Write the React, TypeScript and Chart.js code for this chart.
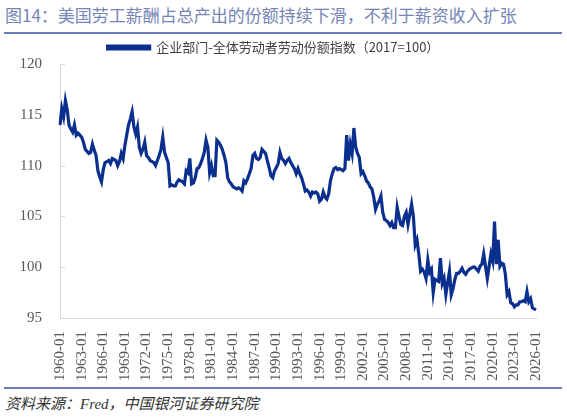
import React, { useEffect, useRef } from "react";
import { Chart, registerables } from "chart.js";

Chart.register(...registerables);

const TITLE = "图14：美国劳工薪酬占总产出的份额持续下滑，不利于薪资收入扩张";
const SOURCE = "资料来源：Fred，中国银河证券研究院";
const SERIES_NAME = "企业部门-全体劳动者劳动份额指数（2017=100）";

const START_YEAR = 1960;
const END_YEAR = 2026;
const QUARTER_MONTHS = ["01", "04", "07", "10"];

// quarterly categories 1960-01 ... 2026-01
const categories: string[] = [];
for (let y = START_YEAR; y <= END_YEAR; y++) {
  for (const m of QUARTER_MONTHS) {
    if (y === END_YEAR && m !== "01") continue;
    categories.push(`${y}-${m}`);
  }
}

// index values, one row per year (Q1..Q4)
const laborShare: number[] = [
  114.0, 115.6, 114.8, 116.4, // 1960
  115.5, 114.0, 113.6, 113.3, // 1961
  114.0, 113.0, 113.2, 113.0, // 1962
  112.8, 112.3, 111.6, 111.4, // 1963
  111.2, 111.3, 112.1, 111.5, // 1964
  111.0, 109.5, 108.9, 108.4, // 1965
  109.6, 110.3, 110.4, 110.5, // 1966
  110.2, 110.7, 110.6, 110.5, // 1967
  110.0, 110.4, 111.2, 110.7, // 1968
  112.0, 113.0, 114.0, 114.6, // 1969
  115.3, 113.8, 113.1, 113.8, // 1970
  111.8, 111.2, 111.6, 112.3, // 1971
  111.0, 110.8, 110.5, 110.4, // 1972
  110.3, 110.0, 110.5, 111.0, // 1973
  111.6, 112.8, 111.3, 110.8, // 1974
  110.3, 108.0, 108.1, 108.0, // 1975
  108.0, 108.4, 108.6, 108.5, // 1976
  108.4, 108.2, 109.5, 109.3, // 1977
  110.7, 108.2, 108.3, 108.8, // 1978
  109.7, 109.8, 110.2, 110.7, // 1979
  111.3, 112.5, 111.8, 109.3, // 1980
  110.0, 109.0, 109.0, 112.5, // 1981
  112.3, 112.0, 111.6, 111.0, // 1982
  110.3, 108.8, 108.4, 108.2, // 1983
  107.9, 107.8, 107.7, 107.8, // 1984
  107.7, 107.5, 108.5, 108.3, // 1985
  108.7, 109.2, 109.7, 111.0, // 1986
  111.2, 110.7, 110.6, 110.8, // 1987
  111.6, 111.4, 111.2, 110.5, // 1988
  109.8, 109.0, 108.8, 109.5, // 1989
  109.8, 110.2, 111.3, 110.7, // 1990
  110.5, 110.2, 110.5, 110.7, // 1991
  110.3, 110.0, 109.7, 109.2, // 1992
  109.7, 109.2, 108.8, 108.2, // 1993
  107.5, 107.6, 107.4, 107.0, // 1994
  107.4, 107.3, 107.4, 107.2, // 1995
  106.5, 106.7, 107.4, 106.9, // 1996
  106.7, 107.2, 108.5, 109.2, // 1997
  109.7, 109.8, 109.6, 109.7, // 1998
  109.6, 109.5, 109.7, 113.0, // 1999
  110.5, 112.1, 111.2, 113.7, // 2000
  111.8, 111.2, 110.8, 109.2, // 2001
  109.4, 109.0, 108.5, 108.3, // 2002
  107.9, 107.7, 106.9, 105.7, // 2003
  106.2, 106.5, 107.0, 105.4, // 2004
  104.7, 104.6, 104.4, 104.1, // 2005
  104.4, 103.9, 103.9, 105.9, // 2006
  105.0, 104.2, 104.1, 105.0, // 2007
  105.4, 104.2, 105.2, 106.2, // 2008
  105.0, 102.2, 102.7, 101.3, // 2009
  99.6, 99.8, 99.5, 98.9, // 2010
  100.7, 99.5, 99.8, 97.5, // 2011
  98.8, 98.7, 98.6, 100.9, // 2012
  98.4, 98.9, 97.3, 98.5, // 2013
  99.6, 97.3, 97.9, 98.8, // 2014
  99.4, 99.4, 99.6, 99.9, // 2015
  99.5, 99.3, 99.6, 99.8, // 2016
  99.9, 100.0, 100.0, 99.8, // 2017
  99.6, 100.1, 100.3, 101.3, // 2018
  100.1, 98.9, 100.1, 101.3, // 2019
  100.6, 104.5, 100.3, 102.7, // 2020
  100.1, 100.4, 100.3, 99.3, // 2021
  97.3, 97.6, 96.5, 96.4, // 2022
  96.1, 96.3, 96.3, 96.6, // 2023
  96.6, 96.7, 96.6, 97.6, // 2024
  96.6, 96.9, 96.0, 95.9, // 2025
  95.8, // 2026
];

const Y_MIN = 95;
const Y_MAX = 120;
const Y_STEP = 5;
const LABEL_EVERY = 12;

const LINE_COLOR = "#0b2f8e";
const AXIS_COLOR = "#d9d9d9";
const TICK_COLOR = "#595959";
const RULE_COLOR = "#6b7cb6";

const innerTicks = {
  id: "innerTicks",
  beforeDatasetsDraw(chart: any) {
    const ys = chart.scales.y;
    const x0 = chart.chartArea.left;
    const ctx = chart.ctx;
    ctx.save();
    ctx.strokeStyle = AXIS_COLOR;
    ctx.lineWidth = 1;
    ys.ticks.forEach((t: any) => {
      const py = Math.round(ys.getPixelForValue(t.value)) + 0.5;
      ctx.beginPath();
      ctx.moveTo(x0, py);
      ctx.lineTo(x0 + 5, py);
      ctx.stroke();
    });
    ctx.restore();
  },
};

function LaborChart() {
  const ref = useRef<HTMLCanvasElement | null>(null);
  useEffect(() => {
    if (!ref.current) return;
    const chart = new Chart(ref.current, {
      type: "line",
      data: {
        labels: categories,
        datasets: [
          {
            label: SERIES_NAME,
            data: laborShare,
            borderColor: LINE_COLOR,
            backgroundColor: LINE_COLOR,
            borderWidth: 3.2,
            pointRadius: 0,
            tension: 0,
          },
        ],
      },
      options: {
        animation: false,
        responsive: true,
        maintainAspectRatio: false,
        layout: { padding: { left: 0, right: 20, top: 2, bottom: 0 } },
        plugins: {
          legend: {
            display: true,
            position: "top",
            labels: {
              boxWidth: 42,
              boxHeight: 3,
              padding: 6,
              color: "#404040",
              font: { family: "'Noto Sans CJK SC', 'Noto Sans', sans-serif", size: 13 },
            },
          },
          tooltip: { enabled: false },
        },
        scales: {
          x: {
            type: "category",
            grid: { display: true, drawOnChartArea: false, drawTicks: false },
            border: { color: AXIS_COLOR, width: 1 },
            afterFit(scale: any) {
              scale.height = 65;
            },
            ticks: {
              autoSkip: false,
              maxRotation: 90,
              minRotation: 90,
              padding: 13,
              color: TICK_COLOR,
              font: { family: "'Liberation Serif', 'Times New Roman', serif", size: 15 },
              callback: (_v: any, i: number) => (i % LABEL_EVERY === 0 ? categories[i] : null),
            },
          },
          y: {
            min: Y_MIN,
            max: Y_MAX,
            grid: { display: false, drawTicks: false },
            border: { color: AXIS_COLOR, width: 1 },
            afterFit(scale: any) {
              scale.width = 60;
            },
            ticks: {
              stepSize: Y_STEP,
              padding: 18,
              color: TICK_COLOR,
              font: { family: "'Liberation Serif', 'Times New Roman', serif", size: 15 },
            },
          },
        },
      },
      plugins: [innerTicks],
    });
    return () => chart.destroy();
  }, []);
  return <canvas ref={ref} />;
}

export default function App() {
  return (
    <div
      style={{
        position: "fixed",
        left: 0,
        top: 0,
        width: 567,
        height: 418,
        background: "#ffffff",
        overflow: "hidden",
      }}
    >
      <div
        style={{
          position: "absolute",
          left: 5,
          top: 3,
          fontFamily: "'Noto Sans CJK SC', 'Noto Sans', sans-serif",
          fontSize: 17,
          lineHeight: "24px",
          color: "#7585b6",
          whiteSpace: "nowrap",
        }}
      >
        {TITLE}
      </div>
      <div style={{ position: "absolute", left: 4, top: 32, width: 558, height: 2, background: RULE_COLOR }} />
      <div style={{ position: "absolute", left: 0, top: 33, width: 567, height: 350 }}>
        <LaborChart />
      </div>
      <div style={{ position: "absolute", left: 4, top: 387, width: 558, height: 2, background: RULE_COLOR }} />
      <div
        style={{
          position: "absolute",
          left: 5,
          top: 394,
          fontFamily: "'Liberation Serif', 'Noto Sans CJK SC', serif",
          fontStyle: "italic",
          fontSize: 15,
          lineHeight: "20px",
          color: "#333333",
          whiteSpace: "nowrap",
        }}
      >
        {SOURCE}
      </div>
    </div>
  );
}
